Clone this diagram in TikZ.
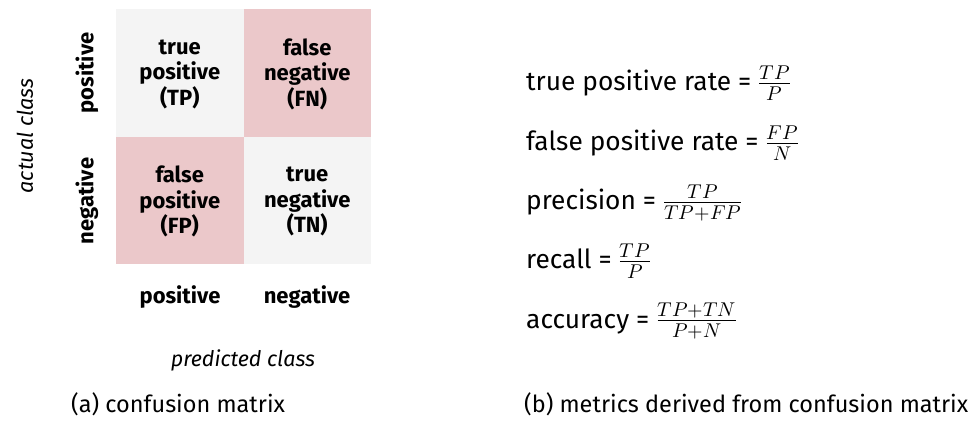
\documentclass[tikz,border=0pt]{standalone}
\usepackage{fontspec}
\usepackage{unicode-math}
\setmainfont{Fira Sans}
\setmathfont{Latin Modern Math}
\newcommand{\mfr}[2]{{\fontsize{28.5}{30}\selectfont$\frac{#1}{#2}$}}
\begin{document}
\begin{tikzpicture}[x=1pt,y=-1pt,
  cellgray/.style={fill=cgray,draw=none},
  cellpink/.style={fill=cpink,draw=none},
  celltext/.style={align=center,font=\fontsize{22}{25.5}\selectfont\bfseries,inner sep=0pt},
  axislab/.style={font=\fontsize{22}{25}\selectfont\bfseries,inner sep=0pt},
  axistitle/.style={font=\fontsize{21.5}{25}\selectfont\itshape,inner sep=0pt},
  metric/.style={anchor=base west,font=\fontsize{26.3}{28}\selectfont,inner sep=0pt},
  caption/.style={anchor=base west,font=\fontsize{23.5}{26}\selectfont,inner sep=0pt}]
\definecolor{cgray}{HTML}{F4F4F4}
\definecolor{cpink}{HTML}{EBC8CA}
\useasboundingbox[fill=white] (0,0) rectangle (973,425);
% cells
\fill[cellgray] (116,9) rectangle (243.5,136.5);
\fill[cellpink] (243.5,9) rectangle (371,136.5);
\fill[cellpink] (116,136.5) rectangle (243.5,264);
\fill[cellgray] (243.5,136.5) rectangle (371,264);
\node[celltext] (tp) at (179.75,74) {true\\positive\\(TP)};
\node[celltext] (fn) at (307.25,74) {false\\negative\\(FN)};
\node[celltext] (fp) at (179.75,201.5) {false\\positive\\(FP)};
\node[celltext] (tn) at (307.25,201.5) {true\\negative\\(TN)};
% axis labels
\node[axislab,rotate=90] (rpos) at (87,73) {positive};
\node[axislab,rotate=90] (rneg) at (87,201) {negative};
\node[axislab] (cpos) at (180,297) {positive};
\node[axislab] (cneg) at (307,297) {negative};
\node[axistitle,rotate=90] (actual) at (25,136) {actual class};
\node[axistitle] (pred) at (243,360) {predicted class};
% metrics
\node[metric] (m1) at (526,91) {true positive rate = \mfr{TP}{P}};
\node[metric] (m2) at (526,150.25) {false positive rate = \mfr{FP}{N}};
\node[metric] (m3) at (526,209.5) {precision = \mfr{TP}{TP+FP}};
\node[metric] (m4) at (526,268.75) {recall = \mfr{TP}{P}};
\node[metric] (m5) at (526,328) {accuracy = \mfr{TP+TN}{P+N}};
% captions
\node[caption] (capa) at (71,412) {(a) confusion matrix};
\node[caption] (capb) at (524,412) {(b) metrics derived from confusion matrix};
\end{tikzpicture}
\end{document}
